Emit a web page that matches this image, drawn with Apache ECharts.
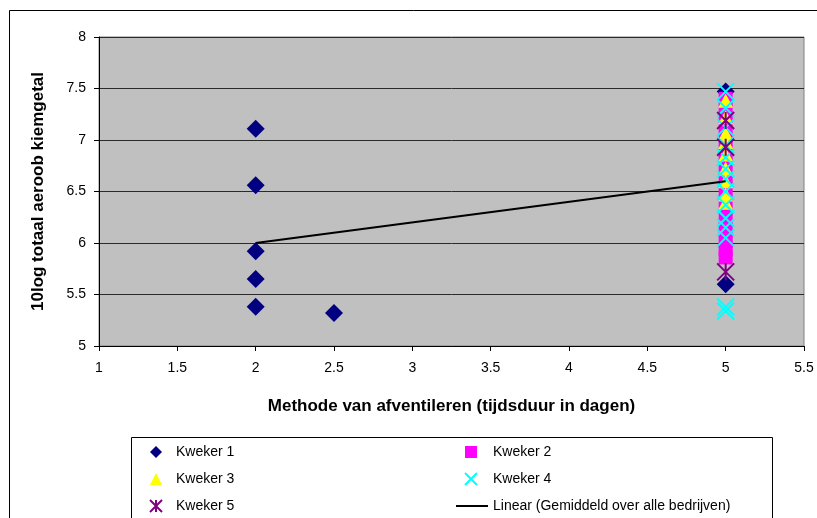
<!DOCTYPE html>
<html>
<head>
<meta charset="utf-8">
<script src="https://cdn.jsdelivr.net/npm/echarts@6/dist/echarts.min.js"></script>
<style>
  html, body { margin: 0; padding: 0; background: #fff; }
  #chart { width: 817px; height: 518px; }
</style>
</head>
<body>
<div id="chart"></div>
<script>
// Measurements per grower: [ventilation duration (days), 10log total aerobic count]
const kweker1 = [[2, 7.11], [2, 6.56], [2, 5.92], [2, 5.65], [2, 5.38], [2.5, 5.32], [5, 7.47], [5, 5.60]];
const kweker2 = [[5, 7.40], [5, 7.27], [5, 7.14], [5, 7.01], [5, 6.88], [5, 6.75], [5, 6.62], [5, 6.49], [5, 6.36], [5, 6.24], [5, 6.12], [5, 6.02], [5, 5.94], [5, 5.86]];
const kweker3 = [[5, 7.38], [5, 7.22], [5, 7.06], [5, 6.98], [5, 6.86], [5, 6.72], [5, 6.60], [5, 6.47], [5, 6.39]];
const kweker4 = [[5, 7.47], [5, 7.31], [5, 7.12], [5, 6.95], [5, 6.83], [5, 6.72], [5, 6.62], [5, 6.50], [5, 6.37], [5, 6.24], [5, 6.15], [5, 6.05], [5, 5.38], [5, 5.34]];
const kweker5 = [[5, 7.19], [5, 6.93], [5, 5.72]];
// Linear trend of the average over all companies
const trendLine = [[2, 6.0], [5, 6.6]];

const xTicks = { min: 1, max: 5.5, step: 0.5 };
const yTicks = { min: 5, max: 8, step: 0.5 };

const FONT = '"Liberation Sans", Arial, sans-serif';
const SYMBOL_X = 'path://M0,0L10,10M10,0L0,10';
const SYMBOL_STAR = 'path://M0,0L10,10M10,0L0,10M5,0L5,10';
const TREND_NAME = 'Linear (Gemiddeld over alle bedrijven)';

const chart = echarts.init(document.getElementById('chart'), null, { renderer: 'canvas' });

const legendBase = {
  orient: 'vertical', itemGap: 13, height: 120,
  itemWidth: 12, itemHeight: 12, selectedMode: false, padding: 0
};

chart.setOption({
  animation: false,
  backgroundColor: '#fff',
  textStyle: { fontFamily: FONT },
  grid: {
    left: 99, top: 37, right: 13, bottom: 172,
    show: true, backgroundColor: '#C0C0C0', borderColor: '#808080', borderWidth: 1
  },
  graphic: [
    { type: 'rect', shape: { x: 9.5, y: 10.5, width: 830, height: 540 }, style: { fill: 'none', stroke: '#000', lineWidth: 1 }, z: -1 },
    { type: 'rect', shape: { x: 131.5, y: 437.5, width: 641, height: 100 }, style: { fill: 'none', stroke: '#000', lineWidth: 1 }, z: -1 }
  ],
  legend: [
    Object.assign({}, legendBase, {
      data: ['Kweker 1', 'Kweker 3', 'Kweker 5'],
      left: 149, top: 445,
      textStyle: { fontFamily: FONT, fontSize: 14, color: '#000', padding: [0, 0, 0, 9] }
    }),
    Object.assign({}, legendBase, {
      data: ['Kweker 2', 'Kweker 4'],
      left: 464, top: 445,
      textStyle: { fontFamily: FONT, fontSize: 14, color: '#000', padding: [0, 0, 0, 11] }
    }),
    Object.assign({}, legendBase, {
      data: [{ name: TREND_NAME, icon: 'rect' }],
      left: 456, top: 499, itemWidth: 32, itemHeight: 2,
      textStyle: { fontFamily: FONT, fontSize: 14, color: '#000', padding: [0, 0, 0, 0] }
    })
  ],
  xAxis: {
    type: 'value', min: xTicks.min, max: xTicks.max, interval: xTicks.step,
    name: 'Methode van afventileren (tijdsduur in dagen)',
    nameLocation: 'middle', nameGap: 52,
    nameTextStyle: { fontFamily: FONT, fontSize: 17, fontWeight: 'bold', color: '#000' },
    axisLine: { show: true, onZero: false, lineStyle: { color: '#000', width: 1 } },
    axisTick: { show: true, length: 5, inside: false, lineStyle: { color: '#000' } },
    axisLabel: { fontFamily: FONT, fontSize: 14, color: '#000', margin: 15 },
    splitLine: { show: false }
  },
  yAxis: {
    type: 'value', min: yTicks.min, max: yTicks.max, interval: yTicks.step,
    name: '10log totaal aeroob kiemgetal',
    nameLocation: 'middle', nameGap: 52, nameRotate: 90,
    nameTextStyle: { fontFamily: FONT, fontSize: 17, fontWeight: 'bold', color: '#000' },
    axisLine: { show: true, onZero: false, lineStyle: { color: '#000', width: 1 } },
    axisTick: { show: true, length: 5, inside: false, lineStyle: { color: '#000' } },
    axisLabel: { fontFamily: FONT, fontSize: 14, color: '#000', margin: 13 },
    splitLine: { show: true, lineStyle: { color: '#2a2a2a', width: 1 } }
  },
  series: [
    {
      name: 'Kweker 1', type: 'scatter', data: kweker1,
      symbol: 'diamond', symbolSize: 18,
      itemStyle: { color: '#000080', opacity: 1 }
    },
    {
      name: 'Kweker 2', type: 'scatter', data: kweker2,
      symbol: 'rect', symbolSize: 14,
      itemStyle: { color: '#FF00FF', opacity: 1 }
    },
    {
      name: 'Kweker 3', type: 'scatter', data: kweker3,
      symbol: 'triangle', symbolSize: [15, 14],
      itemStyle: { color: '#FFFF00', opacity: 1 }
    },
    {
      name: 'Kweker 4', type: 'scatter', data: kweker4,
      symbol: SYMBOL_X, symbolSize: 17,
      itemStyle: { color: 'rgba(0,0,0,0)', borderColor: '#00FFFF', borderWidth: 2, opacity: 1 }
    },
    {
      name: 'Kweker 5', type: 'scatter', data: kweker5,
      symbol: SYMBOL_STAR, symbolSize: 17,
      itemStyle: { color: 'rgba(0,0,0,0)', borderColor: '#800080', borderWidth: 2, opacity: 1 }
    },
    {
      name: TREND_NAME, type: 'line', data: trendLine,
      showSymbol: false, symbol: 'none', z: 5,
      lineStyle: { color: '#000', width: 2 },
      itemStyle: { color: '#000' }
    }
  ]
});
</script>
</body>
</html>
